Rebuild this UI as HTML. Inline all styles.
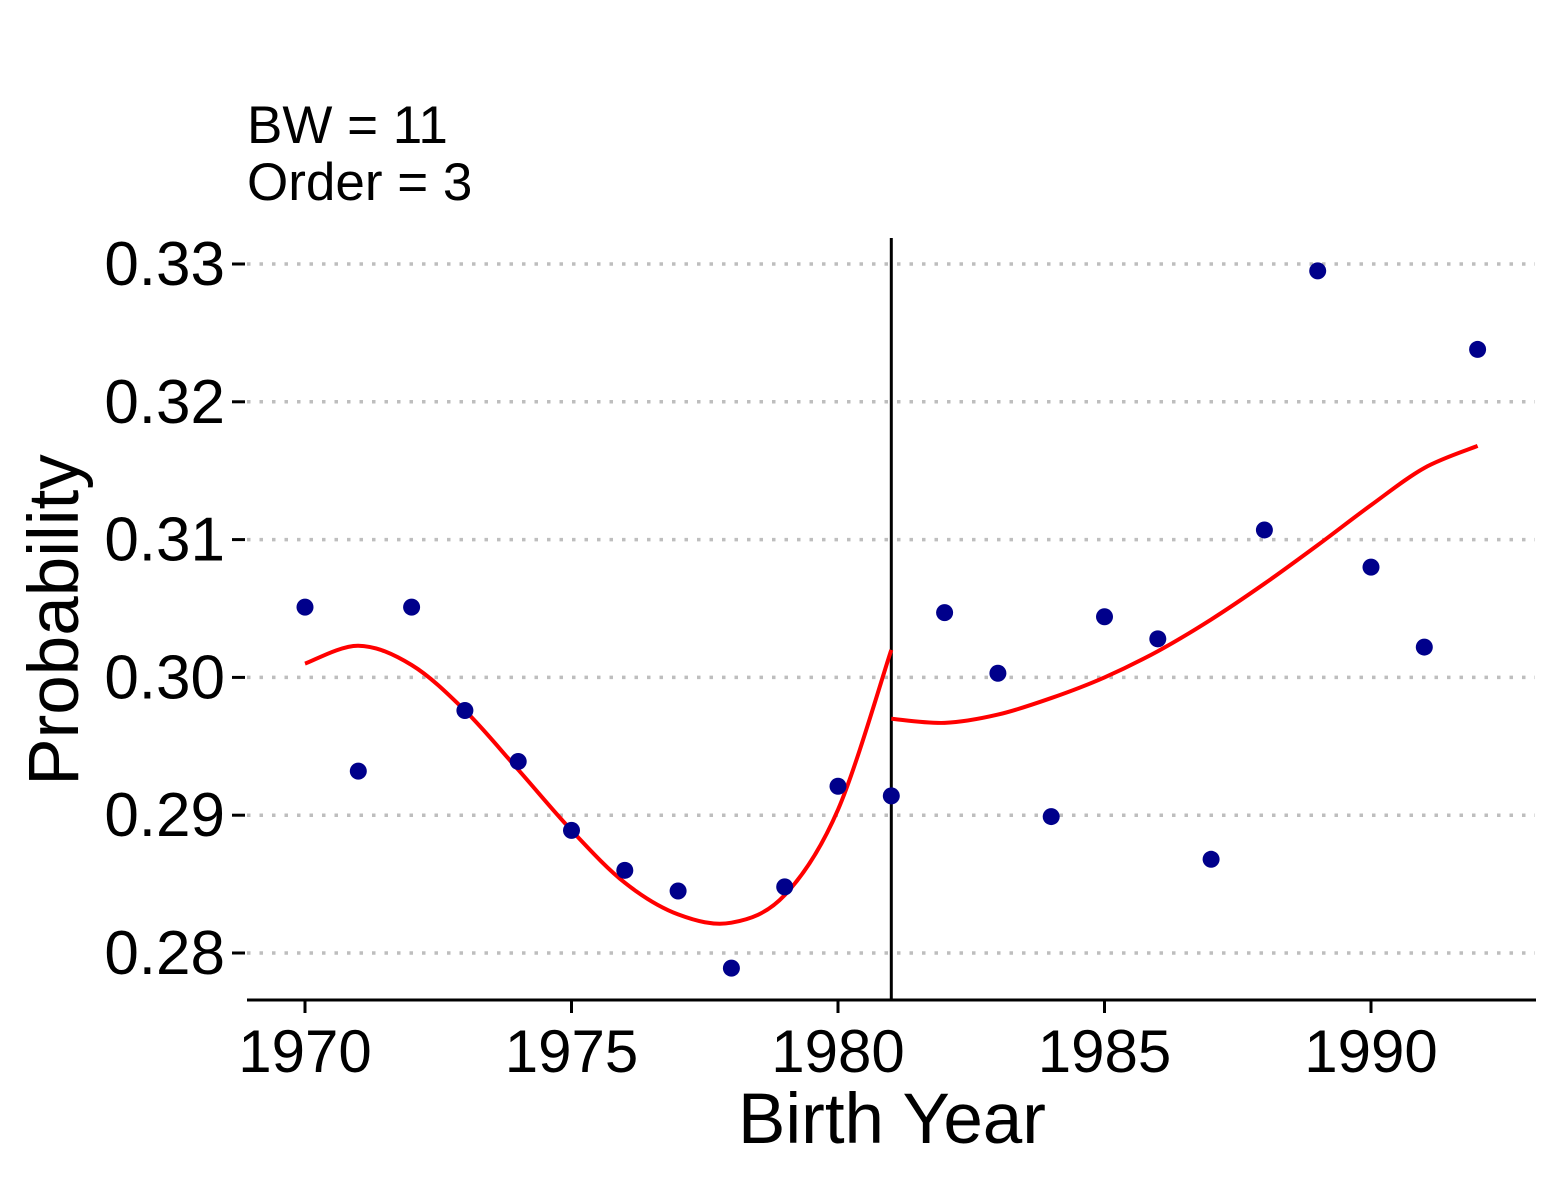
<!DOCTYPE html>
<html><head><meta charset="utf-8"><style>
html,body{margin:0;padding:0;background:#fff;}
svg{display:block;font-family:"Liberation Sans",Arial,sans-serif;}
</style></head><body>
<svg id="chart" width="1562" height="1185" viewBox="0 0 1562 1185">
<text x="247" y="143" font-size="53">BW = 11</text>
<text x="247" y="200" font-size="53">Order = 3</text>
<g id="grid"></g><g id="axes"></g><g id="marks"></g>
<text x="892" y="1143" font-size="71" text-anchor="middle">Birth Year</text>
<text transform="translate(78,620) rotate(-90)" font-size="71" text-anchor="middle">Probability</text>
</svg>
<script>
const years=[1970,1971,1972,1973,1974,1975,1976,1977,1978,1979,1980,1981,1982,1983,1984,1985,1986,1987,1988,1989,1990,1991,1992];
const probs=[0.3051,0.2932,0.3051,0.2976,0.2939,0.2889,0.2860,0.2845,0.2789,0.2848,0.2921,0.2914,0.3047,0.3003,0.2899,0.3044,0.3028,0.2868,0.3107,0.3295,0.3080,0.3022,0.3238];
const leftFitYears=[1970,1971,1972,1973,1974,1975,1976,1977,1978,1979,1980,1981];
const leftFit=[0.3010,0.3023,0.3009,0.2976,0.2933,0.2889,0.2851,0.2828,0.2822,0.2842,0.2904,0.3020];
const rightFitYears=[1981,1982,1983,1984,1985,1986,1987,1988,1989,1990,1991,1992];
const rightFit=[0.2970,0.2967,0.2973,0.2985,0.3000,0.3019,0.3042,0.3068,0.3096,0.3125,0.3152,0.3168];
const xTicks=[1970,1975,1980,1985,1990];
const yTicks=[0.28,0.29,0.30,0.31,0.32,0.33];
const cutoff=1981;
const NS="http://www.w3.org/2000/svg";
const xs=v=>305+(v-1970)*(1371-305)/20;
const ys=v=>264+(0.33-v)*(953-264)/0.05;
function mk(tag,attrs,parent){const e=document.createElementNS(NS,tag);for(const k in attrs)e.setAttribute(k,attrs[k]);document.getElementById(parent).appendChild(e);return e;}
yTicks.forEach(t=>{
 const g=mk('line',{x1:247,x2:1535,y1:ys(t),y2:ys(t),stroke:'#bebebe','stroke-width':3.5,'stroke-dasharray':'3.5 9'},'grid');
 
 
 const tk=mk('line',{x1:232,x2:245,y1:ys(t),y2:ys(t),stroke:'#000','stroke-width':3},'axes');
 
 
 const tl=mk('text',{x:225,y:ys(t)+21,'font-size':62,'text-anchor':'end'},'axes');tl.textContent=t.toFixed(2);
 
 
});
const ax=mk('line',{x1:247,x2:1536,y1:1000,y2:1000,stroke:'#000','stroke-width':3},'axes');


xTicks.forEach(t=>{
 const tk=mk('line',{x1:xs(t),x2:xs(t),y1:1000,y2:1013,stroke:'#000','stroke-width':3},'axes');
 
 
 const tl=mk('text',{x:xs(t),y:1072,'font-size':60,'text-anchor':'middle'},'axes');tl.textContent=t;
 
 
});
const cl=mk('line',{x1:xs(cutoff),x2:xs(cutoff),y1:238,y2:1000,stroke:'#000','stroke-width':3},'marks');


function smooth(xv,yv){const p=xv.map((x,i)=>[xs(x),ys(yv[i])]);let d='M'+p[0][0]+','+p[0][1];
 for(let i=0;i<p.length-1;i++){const p0=p[Math.max(0,i-1)],p1=p[i],p2=p[i+1],p3=p[Math.min(p.length-1,i+2)];
 d+=' C'+(p1[0]+(p2[0]-p0[0])/6)+','+(p1[1]+(p2[1]-p0[1])/6)+' '+(p2[0]-(p3[0]-p1[0])/6)+','+(p2[1]-(p3[1]-p1[1])/6)+' '+p2[0]+','+p2[1];}
 return d;}
const lf=mk('path',{d:smooth(leftFitYears,leftFit),fill:'none',stroke:'#ff0000','stroke-width':4},'marks');


const rf=mk('path',{d:smooth(rightFitYears,rightFit),fill:'none',stroke:'#ff0000','stroke-width':4},'marks');


years.forEach((y,i)=>{
 const c=mk('circle',{cx:xs(y),cy:ys(probs[i]),r:8.5,fill:'#00008b'},'marks');
 
 
});
</script>
</body></html>
